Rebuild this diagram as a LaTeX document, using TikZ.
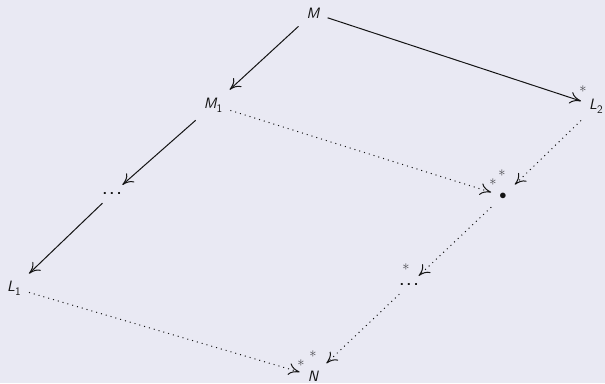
\documentclass[tikz,border=0pt]{standalone}
\usetikzlibrary{arrows.meta}
\definecolor{bgcol}{RGB}{233,233,243}
\definecolor{stargray}{RGB}{70,70,75}
\definecolor{inkcol}{RGB}{20,20,20}
\newcommand{\subidx}[1]{\raisebox{-0.25em}{\fontsize{11.5}{12}\selectfont\upshape #1}}
\newcommand{\mydots}{\upshape\bfseries.\hspace{2.6pt}.\hspace{2.6pt}.}
\begin{document}
\begin{tikzpicture}[x=1pt,y=-1pt,
  every node/.style={font=\fontsize{15}{18}\selectfont\sffamily\slshape, text=inkcol},
  obj/.style={inner sep=8pt},
  starmark/.style={inner sep=0pt, text=stargray, font=\fontsize{15}{16}\selectfont},
  tip/.style={-{Computer Modern Rightarrow[length=11pt,width=12pt,line width=1pt]}},
  solidarr/.style={tip, draw=inkcol, line width=1pt},
  dotarr/.style={tip, draw=inkcol, line width=1pt, dash pattern=on 1pt off 4pt}]
\fill[bgcol] (0,0) rectangle (605,383);
\useasboundingbox (0,0) rectangle (605,383);
\node[obj] (M) at (313,13) {M};
\node[obj] (M1) at (213,105) {M\subidx{1}};
\node[obj] (D1) at (112,194) {\mydots};
\node[obj] (L1) at (14,288) {L\subidx{1}};
\node[obj] (L2) at (596,106) {L\subidx{2}};
\node[obj] (B) at (503,196) {$\bullet$};
\node[obj] (D2) at (409,285) {\mydots};
\node[obj] (N) at (313,376) {N};
\node[starmark] (s1) at (583,89) {$\ast$};
\node[starmark] (s2) at (493,182) {$\ast$};
\node[starmark] (s3) at (502,173) {$\ast$};
\node[starmark] (s4) at (406,267) {$\ast$};
\node[starmark] (s5) at (301,363) {$\ast$};
\node[starmark] (s6) at (313,354) {$\ast$};
\draw[solidarr] (M) -- (M1);
\draw[solidarr] (M) -- (L2);
\draw[solidarr] (M1) -- (D1);
\draw[solidarr] (D1) -- (L1);
\draw[dotarr] (M1) -- (B);
\draw[dotarr] (L2) -- (B);
\draw[dotarr] (B) -- (D2);
\draw[dotarr] (D2) -- (N);
\draw[dotarr] (L1) -- (N);
\end{tikzpicture}
\end{document}
